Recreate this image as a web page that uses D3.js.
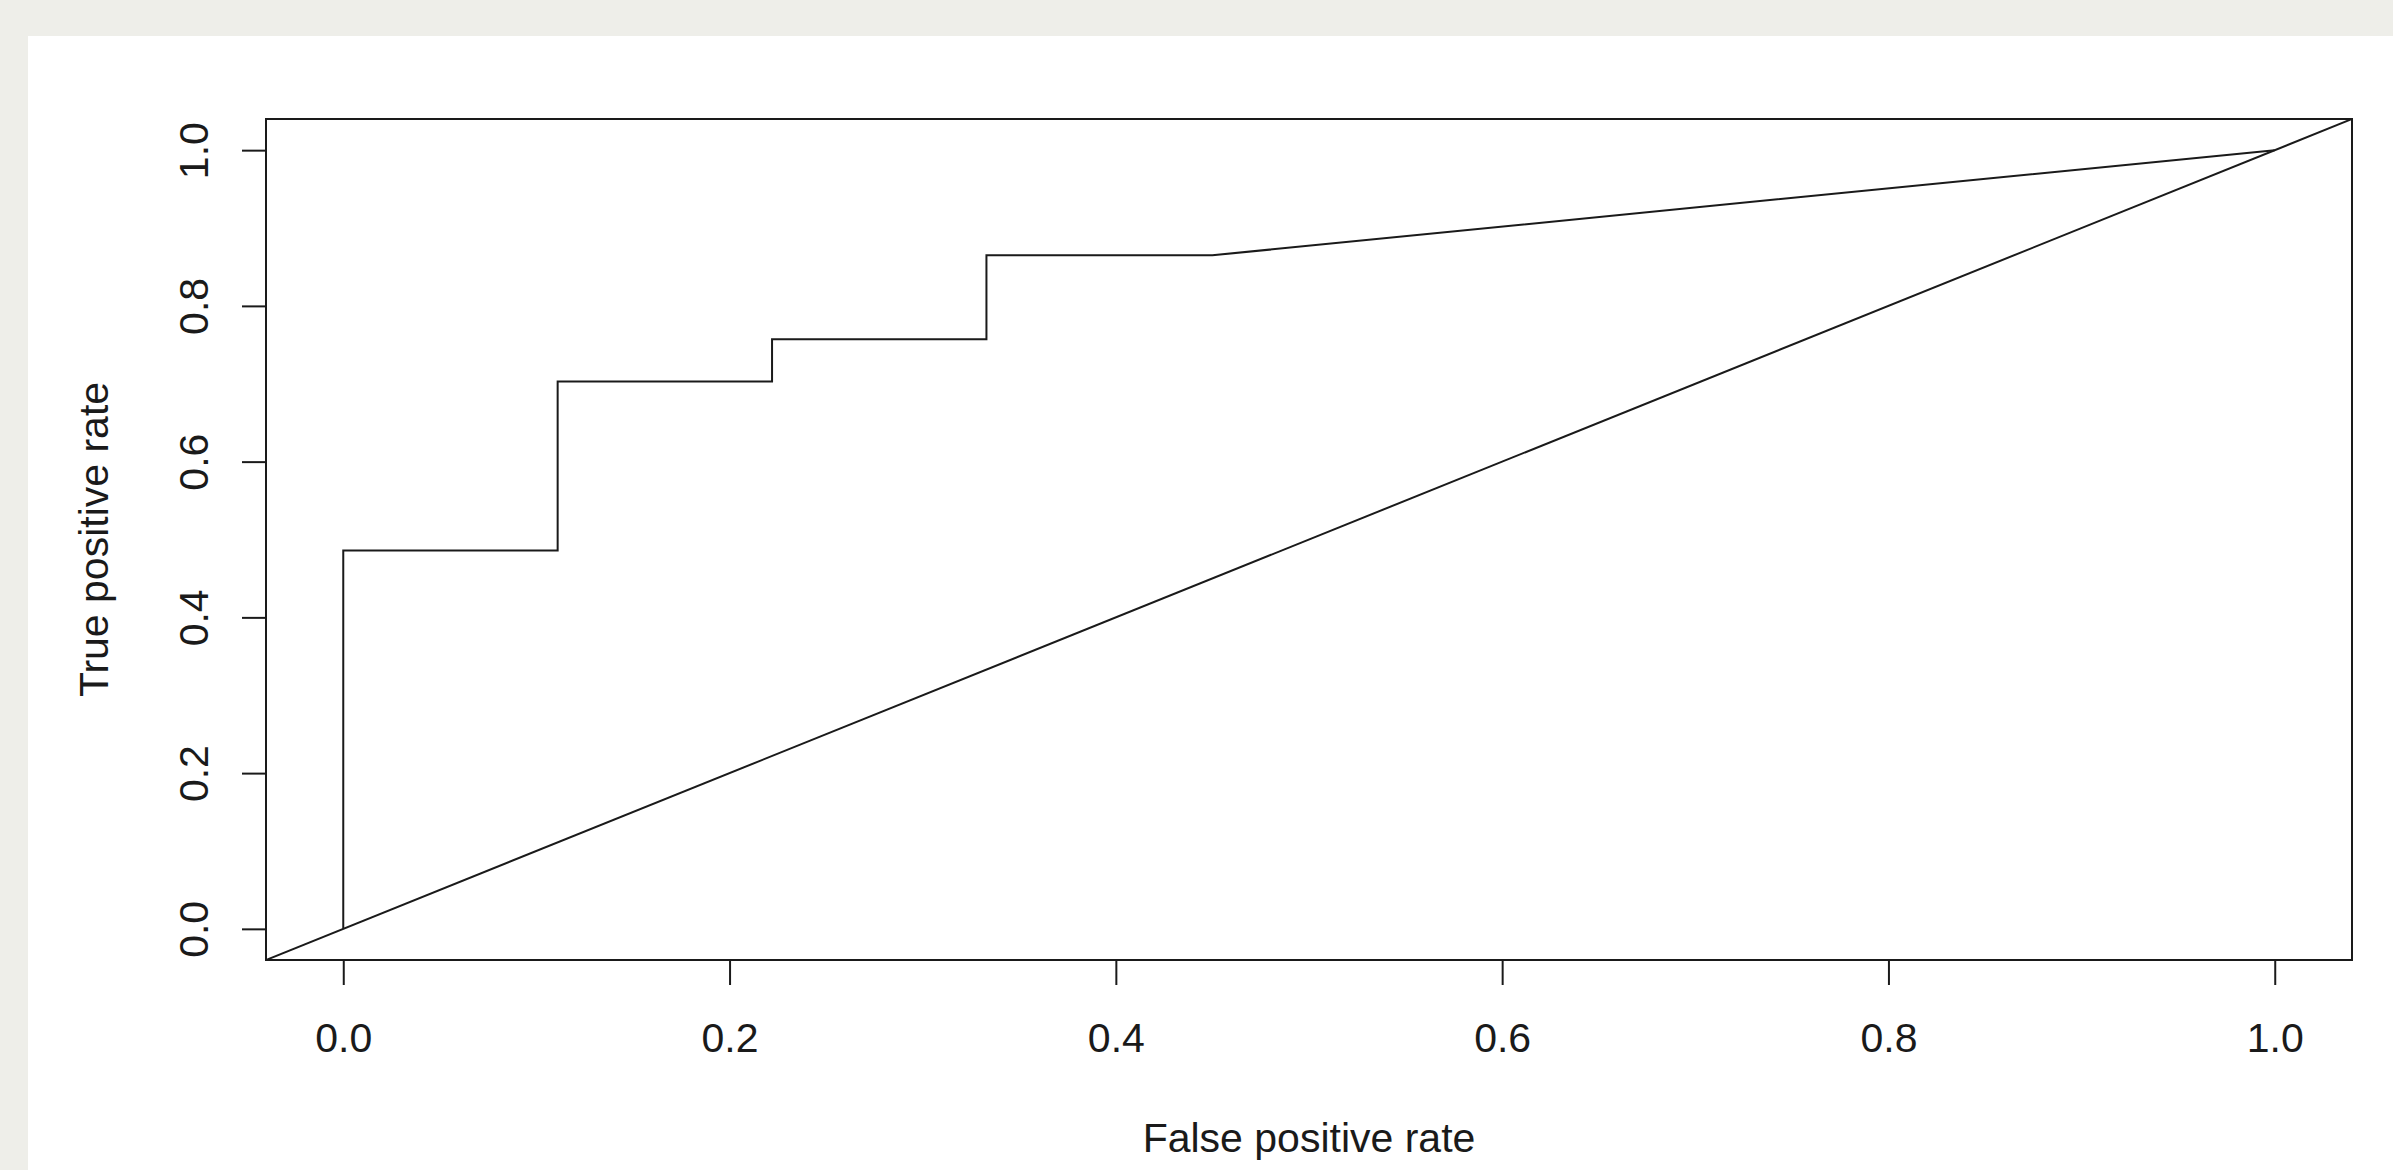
<!DOCTYPE html>
<html>
<head>
<meta charset="utf-8">
<script src="https://cdn.jsdelivr.net/npm/d3@7"></script>
<style>
  html, body { margin: 0; padding: 0; background: #eeeee9; }
  svg { display: block; }
  text { font-family: "Liberation Sans", Arial, sans-serif; fill: #1a1a1a; }
</style>
</head>
<body>
<script>
// ROC curve points (false positive rate, true positive rate)
const fpr = [0, 0, 0.111, 0.111, 0.222, 0.222, 0.333, 0.333, 0.45, 1];
const tpr = [0, 0.486, 0.486, 0.703, 0.703, 0.757, 0.757, 0.865, 0.865, 1];
const xTicks = [0, 0.2, 0.4, 0.6, 0.8, 1.0];
const yTicks = [0, 0.2, 0.4, 0.6, 0.8, 1.0];

const width = 2393, height = 1170;
const box = { left: 266, right: 2352, top: 119, bottom: 960 };

const svg = d3.select('body').append('svg')
  .attr('width', width)
  .attr('height', height);

// white panel over the grey page
svg.append('rect')
  .attr('x', 28).attr('y', 36)
  .attr('width', width - 28).attr('height', height - 36)
  .attr('fill', '#ffffff');

// R style: 4% extension on both ends
const x = d3.scaleLinear().domain([-0.04, 1.04]).range([box.left, box.right]);
const y = d3.scaleLinear().domain([-0.04, 1.04]).range([box.bottom, box.top]);

const clip = svg.append('clipPath').attr('id', 'plotclip')
  .append('rect')
  .attr('x', box.left).attr('y', box.top)
  .attr('width', box.right - box.left).attr('height', box.bottom - box.top);

// x axis
const xAxis = svg.append('g')
  .attr('transform', `translate(0,${box.bottom})`)
  .call(d3.axisBottom(x).tickValues(xTicks).tickSize(25).tickFormat(d3.format('.1f')));
xAxis.select('.domain').remove();
xAxis.selectAll('line').attr('stroke', '#1a1a1a').attr('stroke-width', 2);
xAxis.selectAll('text')
  .attr('y', 92).attr('dy', 0)
  .style('font-size', '41px')
  .attr('fill', '#1a1a1a');

// y axis
const yAxis = svg.append('g')
  .attr('transform', `translate(${box.left},0)`)
  .call(d3.axisLeft(y).tickValues(yTicks).tickSize(24).tickFormat(d3.format('.1f')));
yAxis.select('.domain').remove();
yAxis.selectAll('line').attr('stroke', '#1a1a1a').attr('stroke-width', 2);
yAxis.selectAll('text')
  .attr('transform', 'rotate(-90)')
  .attr('x', 0).attr('y', -58).attr('dy', 0)
  .attr('text-anchor', 'middle')
  .style('font-size', '41px')
  .attr('fill', '#1a1a1a');

const plot = svg.append('g').attr('clip-path', 'url(#plotclip)');

// diagonal reference line y = x across the whole plot region
plot.append('line')
  .attr('x1', x(-0.04)).attr('y1', y(-0.04))
  .attr('x2', x(1.04)).attr('y2', y(1.04))
  .attr('stroke', '#1a1a1a')
  .attr('stroke-width', 2);

// ROC curve
const line = d3.line()
  .x((d, i) => x(fpr[i]))
  .y((d, i) => y(tpr[i]));

plot.append('path')
  .datum(fpr)
  .attr('d', line)
  .attr('fill', 'none')
  .attr('stroke', '#1a1a1a')
  .attr('stroke-width', 2);

// plot box
svg.append('rect')
  .attr('x', box.left).attr('y', box.top)
  .attr('width', box.right - box.left).attr('height', box.bottom - box.top)
  .attr('fill', 'none')
  .attr('stroke', '#1a1a1a')
  .attr('stroke-width', 2);

// axis titles
svg.append('text')
  .attr('x', (box.left + box.right) / 2)
  .attr('y', 1152)
  .attr('text-anchor', 'middle')
  .style('font-size', '41px')
  .text('False positive rate');

svg.append('text')
  .attr('transform', `translate(108,${(box.top + box.bottom) / 2}) rotate(-90)`)
  .attr('text-anchor', 'middle')
  .style('font-size', '41px')
  .text('True positive rate');
</script>
</body>
</html>
